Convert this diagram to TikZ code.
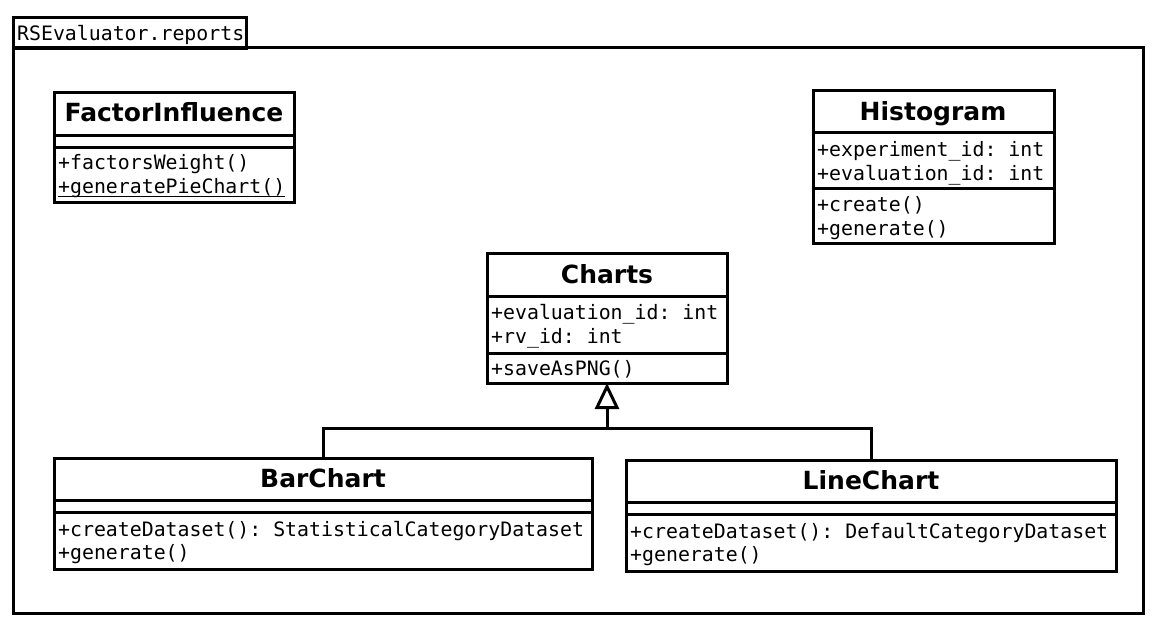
\documentclass[tikz,border=0pt]{standalone}
\usepackage{fontspec}
\setmainfont{DejaVu Sans}
\setmonofont{DejaVu Sans Mono}
\usetikzlibrary{arrows.meta}
\tikzset{
  cls/.style={draw, line width=3pt, anchor=north west, inner sep=0pt, outer sep=0pt},
  sepline/.style={line width=3pt},
  ttl/.style={anchor=base, inner sep=0pt, font=\fontsize{25}{28}\selectfont\bfseries},
  mem/.style={anchor=base west, inner sep=0pt, xshift=2pt, font=\fontsize{19.85}{24}\selectfont\ttfamily},
  conn/.style={line width=3pt},
}
\begin{document}
\begin{tikzpicture}[x=1pt,y=-1pt]
\useasboundingbox (0,0) rectangle (1159,627);
% package
\node[cls, minimum width=233pt, minimum height=31pt] (tab) at (13,17) {};
\node[mem] (tabtxt) at (15,40) {RSEvaluator.reports};
\node[cls, minimum width=1130pt, minimum height=566pt] (pkg) at (13,47) {};

% FactorInfluence
\node[cls, minimum width=240pt, minimum height=110pt] (fi) at (54,92) {};
\node[ttl] (fit) at (174,121) {FactorInfluence};
\draw[sepline] (fi.west |- 0,135) -- (fi.east |- 0,135);
\draw[sepline] (fi.west |- 0,147) -- (fi.east |- 0,147);
\node[mem] (fim1) at (56,169) {+factorsWeight()};
\node[mem] (fim2) at (56,193) {+generatePieChart()};
\draw[line width=1.5pt] ([yshift=-3.5pt]fim2.base west) -- ([yshift=-3.5pt]fim2.base east);

% Histogram
\node[cls, minimum width=241pt, minimum height=153pt] (hi) at (813,90) {};
\node[ttl] (hit) at (933,120) {Histogram};
\draw[sepline] (hi.west |- 0,132) -- (hi.east |- 0,132);
\draw[sepline] (hi.west |- 0,188) -- (hi.east |- 0,188);
\node[mem] (hia1) at (815,156) {+experiment\_id: int};
\node[mem] (hia2) at (815,180) {+evaluation\_id: int};
\node[mem] (him1) at (815,211) {+create()};
\node[mem] (him2) at (815,235) {+generate()};

% Charts
\node[cls, minimum width=240pt, minimum height=130pt] (ch) at (487,253) {};
\node[ttl] (cht) at (607,283) {Charts};
\draw[sepline] (ch.west |- 0,296) -- (ch.east |- 0,296);
\draw[sepline] (ch.west |- 0,353) -- (ch.east |- 0,353);
\node[mem] (cha1) at (489,319) {+evaluation\_id: int};
\node[mem] (cha2) at (489,343) {+rv\_id: int};
\node[mem] (chm1) at (489,375) {+saveAsPNG()};

% BarChart
\node[cls, minimum width=538pt, minimum height=111pt] (bc) at (54,458) {};
\node[ttl] (bct) at (323,487) {BarChart};
\draw[sepline] (bc.west |- 0,500) -- (bc.east |- 0,500);
\draw[sepline] (bc.west |- 0,512) -- (bc.east |- 0,512);
\node[mem] (bcm1) at (56,536) {+createDataset(): StatisticalCategoryDataset};
\node[mem] (bcm2) at (56,559) {+generate()};

% LineChart
\node[cls, minimum width=490pt, minimum height=111pt] (lc) at (626,460) {};
\node[ttl] (lct) at (871,489) {LineChart};
\draw[sepline] (lc.west |- 0,502) -- (lc.east |- 0,502);
\draw[sepline] (lc.west |- 0,514) -- (lc.east |- 0,514);
\node[mem] (lcm1) at (628,538) {+createDataset(): DefaultCategoryDataset};
\node[mem] (lcm2) at (628,561) {+generate()};

% generalization
\coordinate (j) at (ch.south |- 0,428);
\draw[conn] (bc.north) |- (j);
\draw[conn] (lc.north) |- (j);
\draw[conn, -{Triangle[open, length=26pt, width=24pt, line width=3pt, fill=white]}] (j) -- (ch.south);
\end{tikzpicture}
\end{document}
